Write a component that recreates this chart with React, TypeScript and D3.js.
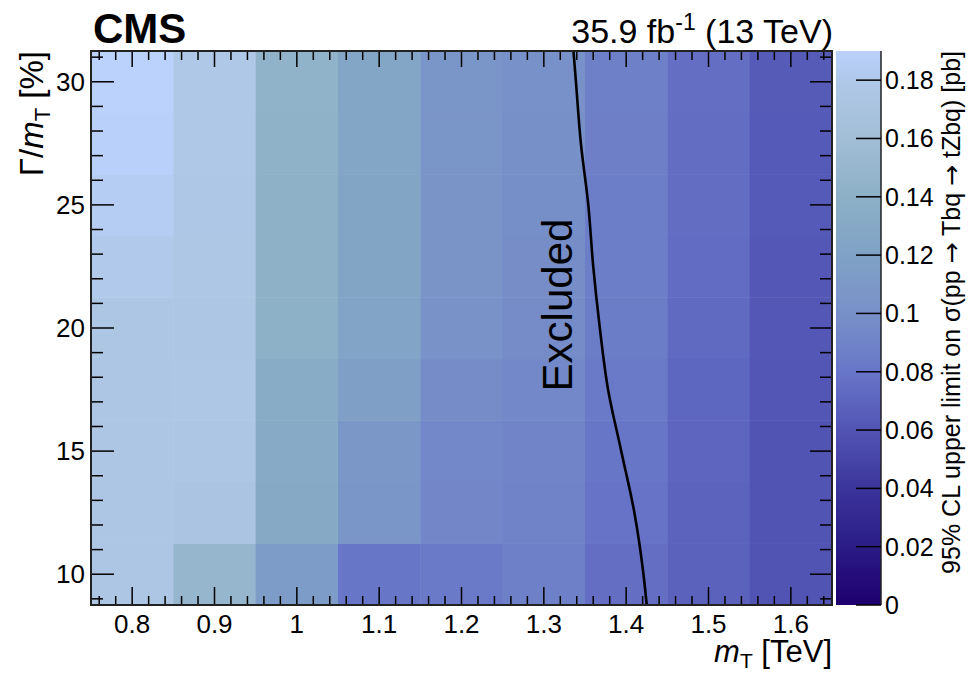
import React from "react";
import * as d3 from "d3";

// bin centres
const massBins = [0.8, 0.9, 1.0, 1.1, 1.2, 1.3, 1.4, 1.5, 1.6];
const widthBins = [10, 12.5, 15, 17.5, 20, 22.5, 25, 27.5, 30];

// 95% CL upper limit [pb], one array per mass bin, width from 10% to 30%
const limit080 = [0.176, 0.175, 0.175, 0.176, 0.176, 0.181, 0.185, 0.189, 0.19];
const limit090 = [0.148, 0.172, 0.176, 0.177, 0.176, 0.177, 0.178, 0.179, 0.18];
const limit100 = [0.113, 0.13, 0.131, 0.133, 0.141, 0.142, 0.142, 0.143, 0.145];
const limit110 = [0.08, 0.106, 0.108, 0.117, 0.123, 0.124, 0.124, 0.125, 0.126];
const limit120 = [0.082, 0.092, 0.094, 0.097, 0.103, 0.104, 0.104, 0.105, 0.106];
const limit130 = [0.088, 0.09, 0.091, 0.094, 0.097, 0.098, 0.099, 0.1, 0.101];
const limit140 = [0.076, 0.078, 0.08, 0.082, 0.085, 0.086, 0.086, 0.087, 0.088];
const limit150 = [0.068, 0.069, 0.07, 0.071, 0.073, 0.074, 0.075, 0.075, 0.076];
const limit160 = [0.06, 0.06, 0.06, 0.061, 0.062, 0.062, 0.063, 0.063, 0.064];
const limits = [limit080, limit090, limit100, limit110, limit120, limit130, limit140, limit150, limit160];

// exclusion contour (mass, width)
const contourWidth = [8.75, 10, 12.5, 15, 17.5, 20, 22.5, 25, 27.5, 30, 31.25];
const contourMass = [1.425, 1.421, 1.41, 1.394, 1.378, 1.368, 1.36, 1.354, 1.345, 1.339, 1.336];

const xTicks = [0.8, 0.9, 1.0, 1.1, 1.2, 1.3, 1.4, 1.5, 1.6];
const yTicks = [10, 15, 20, 25, 30];
const zTicks = [0, 0.02, 0.04, 0.06, 0.08, 0.1, 0.12, 0.14, 0.16, 0.18];

// palette stops
const paletteValues = [0, 0.02, 0.04, 0.06, 0.08, 0.1, 0.12, 0.14, 0.16, 0.18, 0.19];
const paletteColors = ["#1e006e", "#2b1b87", "#3b359b", "#5254b4", "#6876c8", "#7890c8", "#80a2c6", "#8cb0c6", "#a2bed6", "#b0c8e8", "#bad2fc"];

const font = "'Liberation Sans', Arial, Helvetica, sans-serif";
const arrowFont = "'DejaVu Sans', sans-serif";

const App = () => {
  const left = 91, right = 832, top = 51, bottom = 605;
  const zLeft = 836, zRight = 881;

  const x = d3.scaleLinear().domain([0.75, 1.65]).range([left, right]);
  const y = d3.scaleLinear().domain([8.75, 31.25]).range([bottom, top]);
  const z = d3.scaleLinear().domain([0, 0.19]).range([bottom, top]);
  const color = d3.scaleLinear<string>().domain(paletteValues).range(paletteColors).clamp(true);

  const cells = massBins.flatMap((m, i) =>
    widthBins.map((w, j) => ({ m, w, v: limits[i][j] }))
  );

  const line = d3
    .line<number>()
    .x((_, i) => x(contourMass[i]))
    .y((w) => y(w))
    .curve(d3.curveMonotoneY);

  const xMinor = d3.range(0.76, 1.65, 0.02).filter((t) => Math.abs(t * 10 - Math.round(t * 10)) > 1e-6);
  const yMinor = d3.range(9, 31.01, 1).filter((t) => t % 5 !== 0);

  const gradStops = d3.range(0, 1.0001, 0.02);

  return (
    <svg width={973} height={674} style={{ position: "absolute", left: 0, top: 0 }} fontFamily={font}>
      <rect width={973} height={674} fill="white" />
      <defs>
        <linearGradient id="zgrad" x1="0" y1="1" x2="0" y2="0">
          {gradStops.map((s) => (
            <stop key={s} offset={s} stopColor={color(s * 0.19)} />
          ))}
        </linearGradient>
      </defs>

      {/* heatmap cells */}
      {cells.map((c) => (
        <rect
          key={`${c.m}-${c.w}`}
          x={x(c.m - 0.05)}
          y={y(c.w + 1.25)}
          width={x(c.m + 0.05) - x(c.m - 0.05) + 0.5}
          height={y(c.w - 1.25) - y(c.w + 1.25) + 0.5}
          fill={color(c.v)}
        />
      ))}

      {/* exclusion contour */}
      <path d={line(contourWidth) || ""} fill="none" stroke="black" strokeWidth={2.6} />
      <text
        transform={`translate(572,${(216 + 394) / 2}) rotate(-90)`}
        textAnchor="middle"
        fontSize={42}
        fill="black"
      >
        Excluded
      </text>

      {/* ticks */}
      <g stroke="black" strokeWidth={1.5}>
        {xTicks.map((t) => (
          <g key={`xt${t}`}>
            <line x1={x(t)} x2={x(t)} y1={bottom} y2={bottom - 18} />
            <line x1={x(t)} x2={x(t)} y1={top} y2={top + 16} />
          </g>
        ))}
        {xMinor.map((t) => (
          <g key={`xm${t}`}>
            <line x1={x(t)} x2={x(t)} y1={bottom} y2={bottom - 9} />
            <line x1={x(t)} x2={x(t)} y1={top} y2={top + 9} />
          </g>
        ))}
        {yTicks.map((t) => (
          <g key={`yt${t}`}>
            <line x1={left} x2={left + 23} y1={y(t)} y2={y(t)} />
            <line x1={right} x2={right - 22} y1={y(t)} y2={y(t)} />
          </g>
        ))}
        {yMinor.map((t) => (
          <g key={`ym${t}`}>
            <line x1={left} x2={left + 12} y1={y(t)} y2={y(t)} />
            <line x1={right} x2={right - 12} y1={y(t)} y2={y(t)} />
          </g>
        ))}
      </g>

      {/* frame */}
      <rect x={left} y={top} width={right - left} height={bottom - top} fill="none" stroke="#222" strokeWidth={2} />

      {/* tick labels */}
      <g fontSize={26} fill="black">
        {xTicks.map((t) => (
          <text key={`xl${t}`} x={x(t)} y={633} textAnchor="middle">
            {d3.format("~g")(t)}
          </text>
        ))}
        {yTicks.map((t) => (
          <text key={`yl${t}`} x={85} y={y(t) + 9} textAnchor="end">
            {t}
          </text>
        ))}
      </g>

      {/* axis titles */}
      <text x={832} y={662} textAnchor="end" fontSize={31} fill="black">
        <tspan fontStyle="italic">m</tspan>
        <tspan fontSize={21} dy={6}>T</tspan>
        <tspan dy={-6}> [TeV]</tspan>
      </text>
      <text transform={`translate(43,${top}) rotate(-90)`} textAnchor="end" fontSize={33} fill="black">
        <tspan>Γ/</tspan>
        <tspan fontStyle="italic">m</tspan>
        <tspan fontSize={22} dy={7}>T</tspan>
        <tspan dy={-7}> [%]</tspan>
      </text>

      {/* colour bar */}
      <rect x={zLeft} y={top} width={zRight - zLeft} height={bottom - top} fill="url(#zgrad)" />
      <line x1={zRight} x2={zRight} y1={top} y2={bottom} stroke="#222" strokeWidth={1.5} />
      <g stroke="black" strokeWidth={1.5}>
        {zTicks.map((t) => (
          <line key={`zt${t}`} x1={zRight} x2={zRight - 25} y1={z(t)} y2={z(t)} />
        ))}
      </g>
      <g fontSize={25} fill="black">
        {zTicks.map((t) => (
          <text key={`zl${t}`} x={885} y={z(t) + 9}>
            {d3.format("~g")(t)}
          </text>
        ))}
      </g>
      <text transform={`translate(960,${top}) rotate(-90)`} textAnchor="end" fontSize={25} fill="black">
        <tspan>95% CL upper limit on σ(pp </tspan>
        <tspan fontFamily={arrowFont}>→</tspan>
        <tspan> Tbq </tspan>
        <tspan fontFamily={arrowFont}>→</tspan>
        <tspan> tZbq) [pb]</tspan>
      </text>

      {/* header */}
      <text x={93} y={43} fontSize={42} fontWeight="bold" fill="black">
        CMS
      </text>
      <text x={833} y={43} textAnchor="end" fontSize={34} fill="black">
        <tspan>35.9 fb</tspan>
        <tspan fontSize={23} dy={-13}>-1</tspan>
        <tspan dy={13}> (13 TeV)</tspan>
      </text>
    </svg>
  );
};

export default App;
